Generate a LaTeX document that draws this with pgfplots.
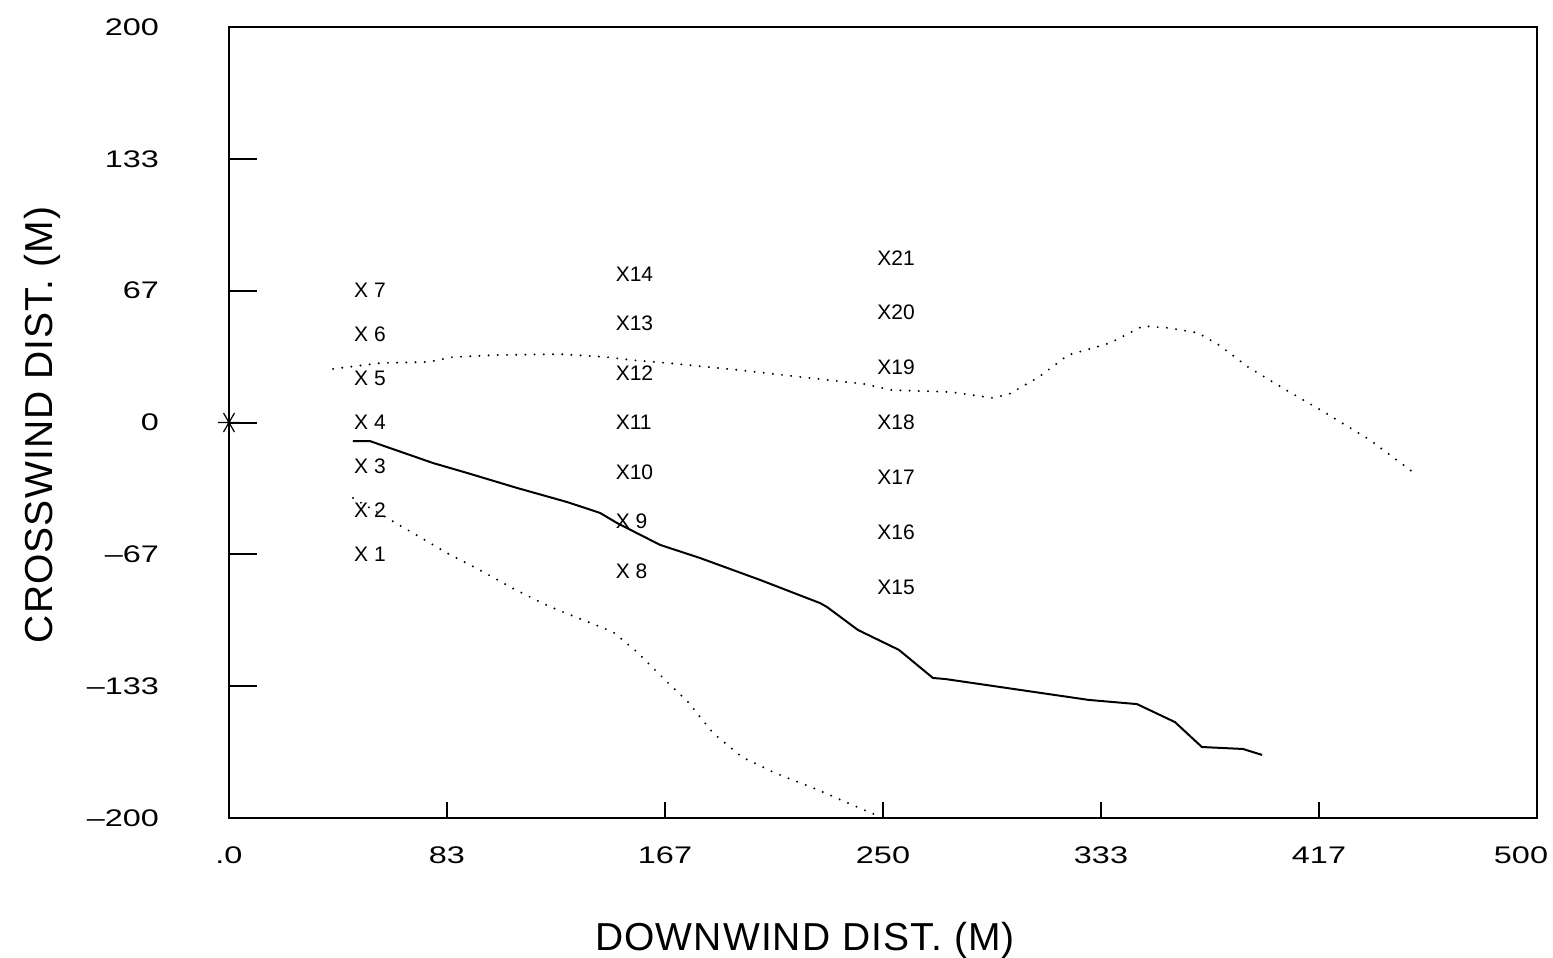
\documentclass[border=0pt]{standalone}
\usepackage{fontspec}
\setmainfont{Liberation Sans}
\newfontfamily\tickfont[FakeStretch=1.35,Ligatures=TeX]{Liberation Sans}
\newfontfamily\labfont[LetterSpace=2.9]{Liberation Sans}
\usepackage{pgfplots}
\pgfplotsset{compat=1.18}
\begin{document}
\begin{tikzpicture}
\path[use as bounding box] (-114.5pt,-70pt) rectangle (662pt,409pt);
\begin{axis}[
  at={(0,0)}, anchor=south west,
  scale only axis, width=654pt, height=395.5pt,
  xmin=0, xmax=500, ymin=-200, ymax=200,
  axis line style={line width=1pt},
  tick align=inside, xtick pos=bottom, ytick pos=left,
  xtick={0,83.333,166.667,250,333.333,416.667,500},
  xticklabels={.0,83,167,250,333,417,\hspace{-16pt}500},
  ytick={-200,-133.333,-66.667,0,66.667,133.333,200},
  yticklabels={\textendash200,\textendash133,\textendash67,0,67,133,200},
  major tick length=14pt,
  every tick/.append style={black, line width=1pt},
  xtick style={black, line width=1pt, /pgfplots/major tick length=8pt},
  ytick style={black, line width=1pt},
  /pgf/number format/assume math mode=true,
  ticklabel style={font=\tickfont\fontsize{12}{14}\selectfont},
  yticklabel style={xshift=-31.5pt},
  xticklabel style={yshift=-11pt},
  xlabel={DOWNWIND DIST. (M)}, ylabel={CROSSWIND DIST. (M)},
  every axis x label/.style={at={(axis description cs:0.4404,-0.1669)},anchor=base,
     font=\labfont\fontsize{19.5}{22}\selectfont},
  every axis y label/.style={at={(axis description cs:-0.1346,0.4968)},rotate=90,anchor=base,
     font=\labfont\fontsize{19.5}{22}\selectfont},
]
% plume centreline (solid)
\addplot[black, line width=1pt] coordinates {
(47.4,-9.4) (53.9,-9.4) (60.4,-12.4) (78.0,-20.5) (91.0,-25.5) (110.1,-33.1)
(129.2,-40.2) (141.8,-45.7) (148.3,-50.8) (164.8,-61.9) (180.0,-68.5) (203,-79.6)
(225.9,-91.3) (228.6,-93.3) (240.4,-104.9) (256.1,-115.0) (269.1,-129.2) (273.7,-129.7)
(328.7,-140.3) (347.1,-142.4) (361.6,-151.5) (371.9,-164.1) (387.6,-165.1) (394.9,-168.1)
};
% upper edge (dotted)
\addplot[black, line width=1.1pt, line cap=round, dash pattern=on 0pt off 4.6pt] coordinates {
(39.8,27.1) (58.1,30.1) (76.1,30.6) (85.6,33.1) (102.1,34.1) (126.5,34.6) (144.1,33.1)
(153.7,31.6) (167.4,30.1) (195.0,26.5) (222.1,22.5) (242.7,19.5) (253.4,16.4) (276.0,15.4)
(292.0,12.4) (298.2,14.4) (309.6,23.0) (320.7,34.1) (336.8,40.2) (349.4,48.8) (359.3,47.8)
(370.4,45.3) (378.4,39.2) (389.5,28.1) (404.1,16.4) (418.6,5.3) (436.2,-8.9) (453.0,-25.5)
};
% lower edge (dotted)
\addplot[black, line width=1.1pt, line cap=round, dash pattern=on 0pt off 4.6pt] coordinates {
(47.4,-38.2) (68.4,-54.4) (83.3,-66.0) (95.9,-74.6) (108.2,-83.7) (121.6,-92.5) (128,-96)
(146.8,-105.9) (156.0,-116.1) (164.8,-127.7) (175.8,-141.8) (185.0,-157.0) (196.1,-169.2)
(208.7,-177.2) (225.2,-185.8) (240.1,-194.4) (247.3,-198.5)
};
% source
\addplot[black, only marks, mark=asterisk, mark size=5.5pt, mark options={rotate=90, line width=0.6pt}] coordinates {(0,0)};
% samplers
\addplot[only marks, mark=none, nodes near coords, point meta=explicit symbolic,
  every node near coord/.style={anchor=west, xshift=-3pt, inner sep=0pt, font=\fontsize{10.5}{12}\selectfont}]
coordinates {
(50,-66.7) [X 1] (50,-44.4) [X 2] (50,-22.2) [X 3] (50,0) [X 4] (50,22.2) [X 5] (50,44.4) [X 6] (50,66.7) [X 7]
(150,-75) [X 8] (150,-50) [X 9] (150,-25) [X10] (150,0) [X11] (150,25) [X12] (150,50) [X13] (150,75) [X14]
(250,-83.3) [X15] (250,-55.6) [X16] (250,-27.8) [X17] (250,0) [X18] (250,27.8) [X19] (250,55.6) [X20] (250,83.3) [X21]
};
\end{axis}
\end{tikzpicture}
\end{document}
